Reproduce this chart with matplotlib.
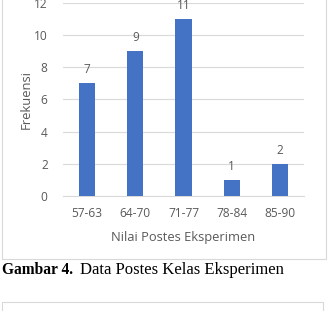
import numpy as np
from matplotlib import pyplot as plt
from matplotlib.patches import Rectangle

categories = ["57-63", "64-70", "71-77", "78-84", "85-90"]
frekuensi = [7, 9, 11, 1, 2]
y_ticks = [0, 2, 4, 6, 8, 10, 12]

bar_color = "#4472C4"
text_color = "#595959"
grid_color = "#D9D9D9"

fig = plt.figure(figsize=(3.29, 3.11), dpi=100)
plt.rcParams["font.family"] = ["Open Sans", "DejaVu Sans"]

# chart frame (top edge runs off the image) and the box under the caption
fig.patches.append(Rectangle((0.006, 0.167), 0.985, 0.9, transform=fig.transFigure,
                             fill=False, edgecolor="#D9D9D9", linewidth=0.8))
fig.patches.append(Rectangle((0.006, -0.1), 0.976, 0.129, transform=fig.transFigure,
                             fill=False, edgecolor="#D9D9D9", linewidth=0.8))

ax = fig.add_axes([0.1915, 0.3698, 0.7325, 0.6206])
x = np.arange(len(categories))
bars = ax.bar(x, frekuensi, width=0.34, color=bar_color, zorder=3)
for xi, v in zip(x, frekuensi):
    ax.text(xi, v + 0.45, str(v), ha="center", va="bottom", fontsize=8.5, color=text_color)

ax.set_xlim(-0.5, len(categories) - 0.5)
ax.set_ylim(0, 12)
ax.set_yticks(y_ticks)
ax.set_xticks(x)
ax.set_xticklabels(categories)
ax.tick_params(axis="both", length=0, labelsize=8.6, labelcolor=text_color)
ax.tick_params(axis="y", pad=11)
ax.tick_params(axis="x", pad=8)
ax.grid(axis="y", color=grid_color, linewidth=0.8, zorder=0)
for s in ["top", "right", "left"]:
    ax.spines[s].set_visible(False)
ax.spines["bottom"].set_color(grid_color)
ax.spines["bottom"].set_linewidth(0.8)
ax.set_ylabel("Frekuensi", fontsize=9.4, color=text_color, labelpad=1)
ax.set_xlabel("Nilai Postes Eksperimen", fontsize=9.3, color=text_color, labelpad=8)

fig.text(0.006, 0.132, "Gambar 4.", fontsize=11.2, fontweight="bold", family="Liberation Serif",
         va="center", ha="left")
fig.text(0.243, 0.132, "Data Postes Kelas Eksperimen", fontsize=12, family="Liberation Serif",
         va="center", ha="left")

fig.savefig("out.png", dpi=100, facecolor="white")
